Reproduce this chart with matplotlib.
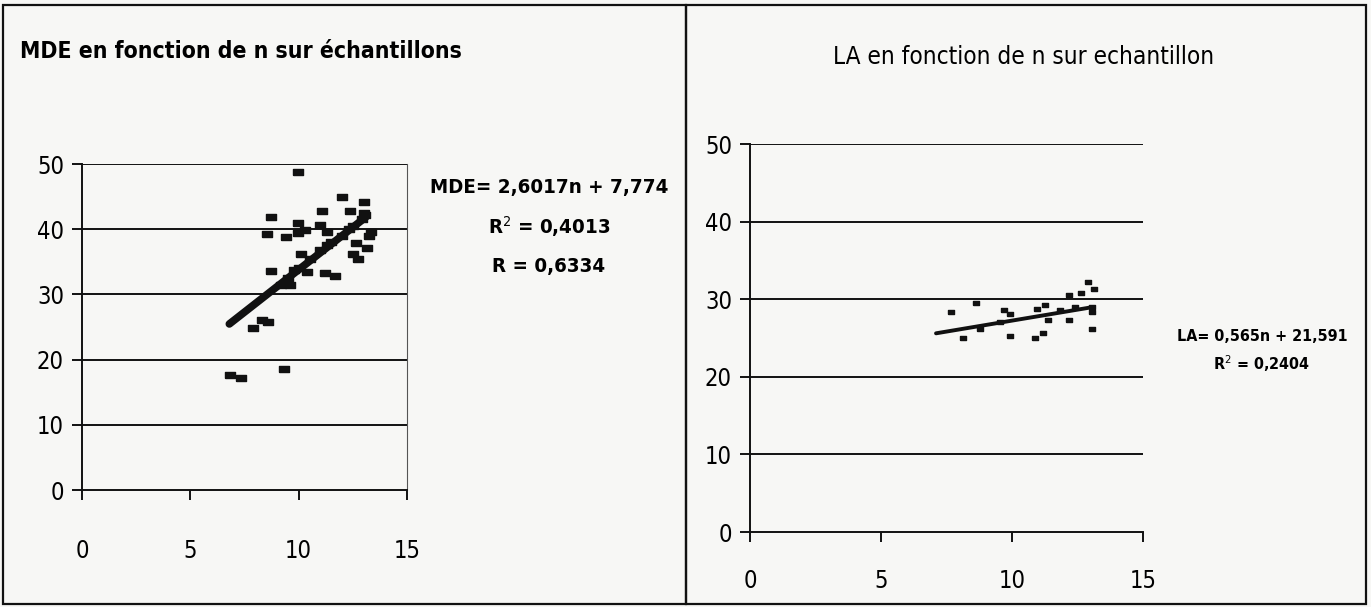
import numpy as np
import matplotlib
matplotlib.use('Agg')
import matplotlib.pyplot as plt
from matplotlib.patches import Rectangle

plt.rcParams['font.family'] = ['DejaVu Sans']
plt.rcParams['font.stretch'] = 'condensed'

# Données MDE en fonction de n
n_mde = [9.99, 12.0, 13.0, 11.07, 12.35, 8.73, 9.99, 10.99, 13.07, 10.3,
         9.97, 8.55, 9.41, 11.3, 13.33, 13.26, 12.64, 13.15, 12.53, 12.76,
         10.09, 8.73, 11.22, 11.67, 9.6, 7.9, 8.32, 8.6, 6.85, 7.36, 9.32,
         9.2, 9.5, 10.0, 10.5, 11.0, 11.5, 12.0, 12.5, 12.9, 10.4, 9.8,
         11.3, 12.3, 13.0]
mde = [48.8, 45.0, 44.1, 42.8, 42.8, 41.9, 41.0, 40.6, 42.2, 39.9,
       39.4, 39.3, 38.8, 39.5, 39.6, 38.9, 37.9, 37.1, 36.2, 35.4,
       36.2, 33.6, 33.3, 32.8, 31.4, 24.8, 26.0, 25.7, 17.6, 17.2, 18.6,
       31.5, 32.5, 34.0, 35.5, 36.8, 38.0, 39.0, 40.5, 41.5, 33.5, 33.8,
       37.5, 40.0, 42.5]
pente_mde, orig_mde = 2.6017, 7.774

# Données LA en fonction de n
n_la = [12.91, 13.13, 12.62, 12.19, 8.63, 7.69, 9.69, 9.92, 11.26, 10.94,
        11.83, 12.4, 13.04, 11.39, 12.19, 13.04, 8.78, 9.54, 8.14, 9.92,
        10.88, 11.2, 13.04]
la = [32.26, 31.3, 30.8, 30.5, 29.5, 28.4, 28.6, 28.1, 29.3, 28.7,
      28.6, 29.0, 28.4, 27.3, 27.3, 29.0, 26.2, 27.1, 25.0, 25.3,
      25.0, 25.7, 26.1]
pente_la, orig_la = 0.565, 21.591

fond = '#f7f7f5'
marqueur = [(-1, -0.55), (1, -0.55), (1, 0.55), (-1, 0.55), (-1, -0.55)]

fig = plt.figure(figsize=(13.71, 6.07), dpi=100, facecolor=fond)

# cadres des deux graphiques
W, H = 1371, 607
for x0, x1 in [(3, 686), (686, 1366)]:
    fig.add_artist(Rectangle((x0 / W, 1 - 604 / H), (x1 - x0) / W, 599 / H,
                             transform=fig.transFigure, fill=False,
                             edgecolor='#111111', linewidth=1.6))


def axe(pos, droite, pad_x):
    ax = fig.add_axes(pos)
    ax.set_facecolor(fond)
    ax.set_xlim(0, 15)
    ax.set_ylim(0, 50)
    ax.set_xticks([0, 5, 10, 15])
    ax.set_yticks([0, 10, 20, 30, 40, 50])
    for y in [10, 20, 30, 40, 50]:
        ax.axhline(y, color='#111111', lw=1.4, zorder=1)
    for s in ['left', 'bottom']:
        ax.spines[s].set_linewidth(1.4)
        ax.spines[s].set_color('#111111')
    ax.spines['top'].set_visible(False)
    if droite:
        ax.spines['right'].set_linewidth(0.8)
        ax.spines['right'].set_color('#555555')
    else:
        ax.spines['right'].set_visible(False)
    ax.tick_params(direction='out', length=7, width=1.4, labelsize=17,
                   color='#111111', pad=6)
    ax.tick_params(axis='x', pad=pad_x)
    return ax


# MDE
ax1 = axe([82 / W, 1 - 490 / H, 325 / W, 326 / H], True, 28)
ax1.plot(n_mde, mde, linestyle='none', marker=marqueur, ms=7,
         color='#111111', zorder=3)
xs = np.array([6.8, 13.1])
ax1.plot(xs, pente_mde * xs + orig_mde, color='#111111', lw=5.5,
         solid_capstyle='round', zorder=4)
fig.text(20 / W, 1 - 52 / H, 'MDE en fonction de n sur échantillons',
         fontsize=16.5, fontweight='bold', va='center', ha='left')
fig.text(549 / W, 1 - 187 / H, 'MDE= 2,6017n + 7,774', fontsize=14.7,
         fontweight='bold', ha='center', va='center')
fig.text(549 / W, 1 - 227 / H, 'R$^2$ = 0,4013', fontsize=14.7,
         fontweight='bold', ha='center', va='center')
fig.text(549 / W, 1 - 266 / H, 'R = 0,6334', fontsize=14.7,
         fontweight='bold', ha='center', va='center')

# LA
ax2 = axe([750 / W, 1 - 532 / H, 393 / W, 388 / H], False, 20)
ax2.plot(n_la, la, linestyle='none', marker=marqueur, ms=5,
         color='#111111', zorder=3)
xs = np.array([7.1, 13.05])
ax2.plot(xs, pente_la * xs + orig_la, color='#111111', lw=2.8,
         solid_capstyle='round', zorder=4)
fig.text(1024 / W, 1 - 57 / H, 'LA en fonction de n sur echantillon',
         fontsize=17.5, ha='center', va='center')
fig.text(1262 / W, 1 - 337 / H, 'LA= 0,565n + 21,591', fontsize=11.5,
         fontweight='bold', ha='center', va='center')
fig.text(1262 / W, 1 - 364 / H, 'R$^2$ = 0,2404', fontsize=11.5,
         fontweight='bold', ha='center', va='center')

fig.savefig('out.png', dpi=100, facecolor=fond)
